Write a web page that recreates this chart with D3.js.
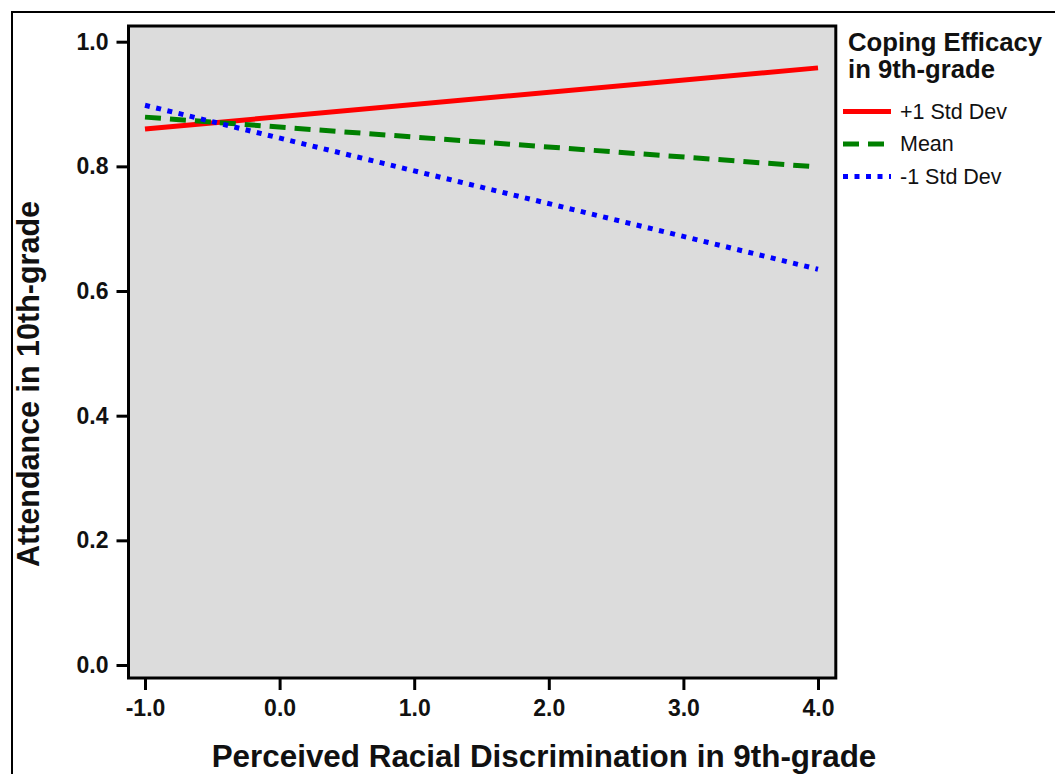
<!DOCTYPE html>
<html>
<head>
<meta charset="utf-8">
<script src="https://cdn.jsdelivr.net/npm/d3@7"></script>
<style>
  body { margin: 0; background: #fff; }
  text { font-family: "Liberation Sans", Arial, sans-serif; fill: #111; }
</style>
</head>
<body>
<div class="chart"></div>
<script>
// Data
var xEnds = [-1.0, 4.0];
var seriesNames = ["+1 Std Dev", "Mean", "-1 Std Dev"];
var plusOne = [0.860, 0.958];
var meanVals = [0.879, 0.799];
var minusOne = [0.898, 0.635];
var xTicks = [-1, 0, 1, 2, 3, 4];
var yTicks = [0, 0.2, 0.4, 0.6, 0.8, 1.0];

var width = 1055, height = 774;
var frame = { left: 128.5, right: 835.8, top: 26, bottom: 678 };

var svg = d3.select("div.chart")
    .append("svg")
    .attr("width", width)
    .attr("height", height);

// Outer border of the figure
svg.append("rect")
    .attr("x", 12).attr("y", 12)
    .attr("width", 1100).attr("height", 800)
    .attr("fill", "none")
    .attr("stroke", "#000")
    .attr("stroke-width", 2);

var x = d3.scaleLinear().domain([-1, 4]).range([145, 818]);
var y = d3.scaleLinear().domain([0, 1]).range([665, 41.7]);

// Plot background
svg.append("rect")
    .attr("x", frame.left).attr("y", frame.top)
    .attr("width", frame.right - frame.left)
    .attr("height", frame.bottom - frame.top)
    .attr("fill", "#dcdcdc");

// Lines
var series = [
    { name: seriesNames[0], vals: plusOne, color: "#ff0000", dash: null },
    { name: seriesNames[1], vals: meanVals, color: "#008000", dash: "16,9" },
    { name: seriesNames[2], vals: minusOne, color: "#0000ff", dash: "5,6.5" }
];

var line = d3.line()
    .x(d => x(d[0]))
    .y(d => y(d[1]));

svg.append("g")
    .selectAll("path")
    .data(series)
    .join("path")
      .attr("d", d => line(xEnds.map((v, i) => [v, d.vals[i]])))
      .attr("fill", "none")
      .attr("stroke", d => d.color)
      .attr("stroke-width", 5)
      .attr("stroke-dasharray", d => d.dash);

// Frame on top
svg.append("rect")
    .attr("x", frame.left).attr("y", frame.top)
    .attr("width", frame.right - frame.left)
    .attr("height", frame.bottom - frame.top)
    .attr("fill", "none")
    .attr("stroke", "#000")
    .attr("stroke-width", 3);

// Axes (plain hyphen for negatives, like the original)
var fmt = d => d.toFixed(1);

var xAxis = g => g
    .attr("transform", `translate(0,${frame.bottom})`)
    .call(d3.axisBottom(x).tickValues(xTicks).tickFormat(fmt).tickSize(12).tickPadding(10))
    .call(g => g.select(".domain").remove())
    .call(g => g.selectAll(".tick line").attr("stroke", "#000").attr("stroke-width", 3))
    .call(g => g.selectAll(".tick text")
        .style("font-size", "23px").style("font-weight", "bold")
        .style("font-family", "'Liberation Sans', Arial, sans-serif").attr("fill", "#111"));

var yAxis = g => g
    .attr("transform", `translate(${frame.left},0)`)
    .call(d3.axisLeft(y).tickValues(yTicks).tickFormat(fmt).tickSize(12).tickPadding(8))
    .call(g => g.select(".domain").remove())
    .call(g => g.selectAll(".tick line").attr("stroke", "#000").attr("stroke-width", 3))
    .call(g => g.selectAll(".tick text")
        .style("font-size", "23px").style("font-weight", "bold")
        .style("font-family", "'Liberation Sans', Arial, sans-serif").attr("fill", "#111"));

svg.append("g").call(xAxis);
svg.append("g").call(yAxis);

// Axis titles
svg.append("text")
    .attr("x", 544).attr("y", 767)
    .attr("text-anchor", "middle")
    .style("font-size", "31.4px").style("font-weight", "bold")
    .text("Perceived Racial Discrimination in 9th-grade");

svg.append("text")
    .attr("transform", "translate(39,384) rotate(-90)")
    .attr("text-anchor", "middle")
    .style("font-size", "30.5px").style("font-weight", "bold")
    .text("Attendance in 10th-grade");

// Legend
var legend = svg.append("g").attr("transform", "translate(848,0)");
legend.append("text").attr("x", 0).attr("y", 51)
    .style("font-size", "25.7px").style("font-weight", "bold")
    .text("Coping Efficacy");
legend.append("text").attr("x", 0).attr("y", 78)
    .style("font-size", "25.7px").style("font-weight", "bold")
    .text("in 9th-grade");

var legendY = [111.5, 144, 176.5];
var item = legend.selectAll("g.item")
    .data(series)
    .join("g")
      .attr("class", "item")
      .attr("transform", (d, i) => `translate(0,${legendY[i]})`);
item.append("line")
    .attr("x1", -5).attr("x2", 43)
    .attr("stroke", d => d.color)
    .attr("stroke-width", 5)
    .attr("stroke-dasharray", d => d.dash);
item.append("text")
    .attr("x", 52).attr("y", 7)
    .style("font-size", "21.5px")
    .text(d => d.name);
</script>
</body>
</html>
